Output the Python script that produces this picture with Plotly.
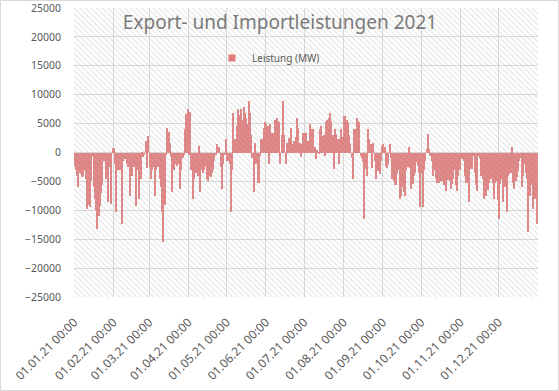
import pandas as pd
import plotly.graph_objects as go

# Daily net power values (MW)
jan = [-2300, -3000, -4000, -6000, -3500, -3800, -4200, -4000, -3000, -4500,
       -9800, -9000, -9500, -5000, -600, -6000, -8000, -10000, -13200, -11000,
       -9200, -7000, -5700, -1500, -600, -4600, -8600, -2500, -600, -8900, 800]
feb = [800, -2000, -10300, -3000, -2500, -3000, -12300, -1500, -1000, -1200,
       -2000, -2500, -2300, -7500, -4000, -1000, -2500, -9200, -3000, -2500,
       -8000, -4500, -300, -800, -500, 2000, -2600, 2900]
mar = [-2500, -4500, -3000, -2500, -7500, -3000, -2300, -2500, -4500, -6000,
       -10300, -15500, -9000, -500, 4300, 3500, 1700, -800, -6900, -3000,
       -2000, -1700, -2300, -2000, -6300, -3000, -1000, -500, 4000, 6600, 7500]
apr = [-500, 7000, -3000, -8000, -4500, -3500, -3500, -4000, 1100, -6900,
       -3000, -3500, -3000, -2300, -4500, -5000, -4000, -4300, -3500, -3000,
       -1500, -500, 1400, 600, 900, -2500, -6300, -2000, -500, 2300]
may = [-1500, -1500, -2000, -10300, -3000, 6900, 2300, 900, 4500, 7500,
       6500, 7500, 5700, 7800, 6900, 6000, 5000, 8900, 6900, 3000,
       -1000, -6900, 1700, -2000, -5200, -5200, -600, 2300, 2300, 4300, 5200]
jun = [5000, 4500, -2000, 4900, 3400, 3000, 3400, 5700, 6000, 5500,
       5200, -2000, 3000, 8900, 3000, -2000, 1700, 600, 2500, 4300,
       1400, 1400, 2000, 2600, 6000, 4300, 1700, -800, 1500, 3400]
jul = [3400, 3400, 1700, 2000, 4900, 3700, 4000, 4000, 1000, -1100,
       500, -300, 4000, 4600, 2900, 3000, -600, 5200, 5700, 6000,
       6900, 5500, 3000, -2900, 4000, 3200, 2300, -2000, 2300, 4000, 2600]
aug = [6300, 6300, 5700, 5200, 3000, 1400, -1000, -4600, 4000, 4000,
       6000, 5500, 5200, -600, -1000, -1700, -11500, -2900, -4000, 4000,
       2300, 1400, -2600, 1700, -1500, -4600, -1700, -3200, -3700, -1500, 1100]
sep = [1400, 1000, -2300, -2600, -2000, 1400, -1000, -4600, -4900, -5700,
       -5700, -3500, -3000, -8000, -7500, -6000, -6900, -7500, -3000, -2500,
       900, -2600, -6300, -5500, -4000, -3500, -1700, -2300, -3500, -9500]
oct_ = [-3500, -9500, -3000, -1500, 600, 3200, 600, -600, -1500, -4000,
        -3000, -4500, -5200, -4000, -5200, -5000, -4500, -5000, -5700, -6600,
        -4500, -4800, -5000, -6300, -5500, -4500, -3000, -5700, -6600, -4000, -3000]
nov = [-1000, -1100, -1400, -4000, -5200, -5200, -8600, -2300, -2900, -2900,
       -600, -3500, -5700, -6600, -600, -1000, -4000, -4600, -8000, -6900,
       -7500, -6500, -5200, -4300, -4600, -5200, -8000, -5200, -5000, -8300]
dec = [-11500, -5500, -4600, -8600, -4000, -6000, -10300, -4000, -3800, -3500,
       900, -5200, -6300, -5000, -4300, -3200, -1400, -1000, -6000, -4000,
       -2000, -3500, -4600, -13800, -7500, -5700, -4000, -9800, -8000, -6000, -12400]

values = jan + feb + mar + apr + may + jun + jul + aug + sep + oct_ + nov + dec
days = pd.date_range("2021-01-01", periods=len(values), freq="D") + pd.Timedelta(hours=12)

series_name = "Leistung (MW)"
title_text = "Export- und Importleistungen 2021"
x_start, x_end = "2021-01-01", "2022-01-01"
y_min, y_max = -25000, 25000
month_ticks = pd.date_range(x_start, x_end, freq="MS")[:-1]
month_labels = [d.strftime("%d.%m.%y %H:%M") for d in month_ticks]

grey = "#595959"
bar_color = "#E07B7B"
font_family = "Noto Sans, Open Sans, sans-serif"

fig = go.Figure()

# hatched plot-area background
fig.add_trace(go.Scatter(
    x=[x_start, x_end, x_end, x_start, x_start],
    y=[y_min, y_min, y_max, y_max, y_min],
    fill="toself", mode="none", hoverinfo="skip", showlegend=False,
    fillcolor="rgba(0,0,0,0)",
    fillpattern=dict(shape="\\", fgcolor="#c4c4c4", bgcolor="rgba(0,0,0,0)",
                     size=4, solidity=0.28),
))

fig.add_trace(go.Bar(
    x=days, y=values, name=series_name, showlegend=False,
    marker=dict(color=bar_color, line=dict(width=0),
                pattern=dict(shape="\\", fgcolor="#CF6A6A", bgcolor="#E38181",
                             size=4, solidity=0.25)),
))
# legend entry (small square like the original)
fig.add_trace(go.Scatter(
    x=[None], y=[None], mode="markers", name=series_name,
    marker=dict(symbol="square", size=7, color=bar_color),
))

fig.update_layout(
    width=559, height=391,
    margin=dict(l=74, r=21, t=8, b=94),
    paper_bgcolor="white", plot_bgcolor="white",
    bargap=0,
    font=dict(family=font_family, color=grey),
    title=dict(text=title_text, x=280 / 559, xanchor="center",
               y=1 - 22 / 391, yanchor="middle",
               font=dict(size=19, color="#7a7a7a", family=font_family)),
    showlegend=True,
    legend=dict(x=(212 - 74) / 464, xanchor="left",
                y=(297 - 58) / 289, yanchor="middle",
                bgcolor="rgba(0,0,0,0)", font=dict(size=10, color=grey),
                itemwidth=30),
    shapes=[dict(type="rect", xref="paper", yref="paper",
                 x0=-73.5 / 464, x1=484.5 / 464,
                 y0=-93.5 / 289, y1=296.5 / 289,
                 line=dict(color="#d9d9d9", width=1), layer="below")],
)

fig.update_xaxes(
    type="date", range=[x_start, x_end], automargin=False,
    tickvals=month_ticks, ticktext=month_labels, tickangle=-45,
    showgrid=True, gridcolor="#d9d9d9", gridwidth=1,
    ticks="", showline=False, zeroline=False,
    tickfont=dict(size=12, color=grey), ticklabeloverflow="allow",
    ticklabelstandoff=15,
)
fig.update_yaxes(
    range=[y_min, y_max], dtick=5000, tick0=0, automargin=False,
    showgrid=True, gridcolor="#d9d9d9", gridwidth=1,
    zeroline=False, showline=False, ticks="",
    tickformat="d", ticklabelstandoff=12, ticklabeloverflow="allow",
    tickfont=dict(size=10.5, color=grey),
)

fig.write_html("out.html", config={"displayModeBar": False},
               post_script="document.body.style.margin='0';")
